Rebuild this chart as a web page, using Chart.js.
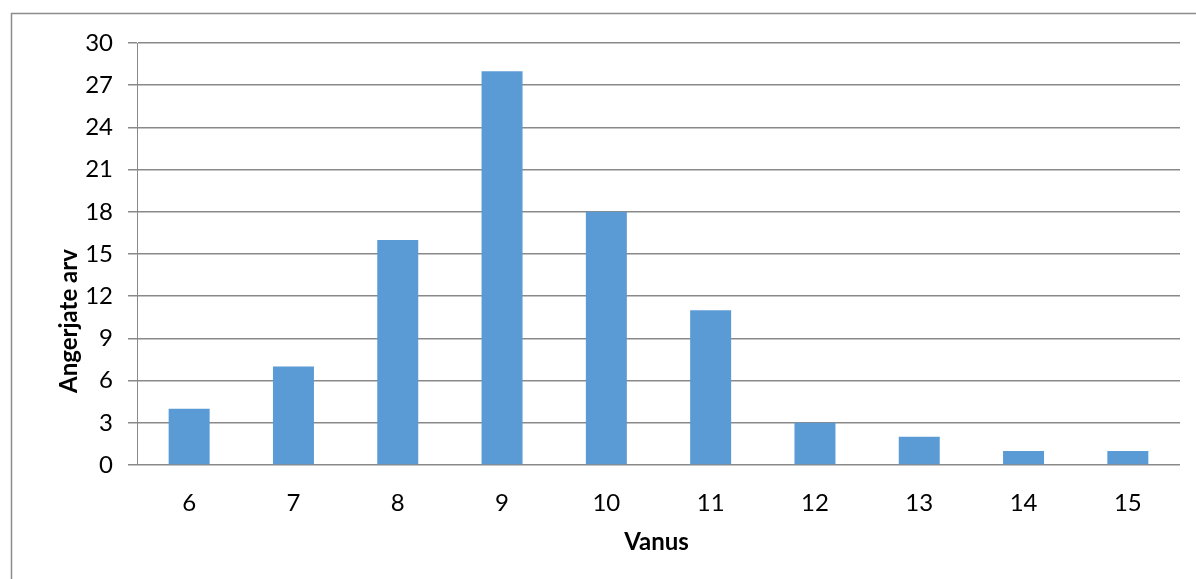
<!DOCTYPE html>
<html>
<head>
<meta charset="utf-8">
<script src="https://cdn.jsdelivr.net/npm/chart.js@4/dist/chart.umd.min.js"></script>
<style>
  html, body { margin: 0; padding: 0; background: #ffffff; }
  #wrap { width: 1196px; height: 579px; position: relative; }
</style>
</head>
<body>
<div id="wrap"><canvas id="c" width="1196" height="579"></canvas></div>
<script>
// Age groups and how many respondents fall into each
const ages = ['6', '7', '8', '9', '10', '11', '12', '13', '14', '15'];
const respondents = [4, 7, 16, 28, 18, 11, 3, 2, 1, 1];
const yTicks = [0, 3, 6, 9, 12, 15, 18, 21, 24, 27, 30];

const xTitle = 'Vanus';
const yTitle = 'Angerjate arv';

const FONT = 'Lato, "Liberation Sans", sans-serif';
const GRID = '#898989';

// Frame around the chart and the two axis titles
const decorations = {
  id: 'decorations',
  beforeDraw(chart) {
    const ctx = chart.ctx;
    ctx.save();
    ctx.strokeStyle = '#8c8c8c';
    ctx.lineWidth = 1.5;
    ctx.beginPath();
    ctx.moveTo(11.5, 579);
    ctx.lineTo(11.5, 13.5);
    ctx.lineTo(1196, 13.5);
    ctx.stroke();
    ctx.restore();
  },
  afterDraw(chart) {
    const ctx = chart.ctx;
    const area = chart.chartArea;
    ctx.save();
    ctx.fillStyle = '#000000';
    ctx.font = 'bold 24px ' + FONT;
    ctx.textAlign = 'center';
    ctx.textBaseline = 'middle';
    ctx.fillText(xTitle, (area.left + area.right) / 2 - 2, 542);
    ctx.translate(69, 321);
    ctx.rotate(-Math.PI / 2);
    ctx.fillText(yTitle, 0, 0);
    ctx.restore();
  }
};

new Chart(document.getElementById('c'), {
  type: 'bar',
  data: {
    labels: ages,
    datasets: [{
      data: respondents,
      backgroundColor: '#5b9bd5',
      borderWidth: 0,
      categoryPercentage: 1,
      barPercentage: 0.393
    }]
  },
  options: {
    responsive: false,
    animation: false,
    devicePixelRatio: 1,
    layout: { padding: { top: 43, right: 16, left: 0, bottom: 0 } },
    plugins: {
      legend: { display: false },
      tooltip: { enabled: false }
    },
    scales: {
      x: {
        afterFit(scale) { scale.height = 114; },
        grid: { display: false, drawTicks: false },
        border: { display: false },
        ticks: {
          color: '#000000',
          padding: 24,
          maxRotation: 0,
          font: { family: FONT, size: 24 }
        }
      },
      y: {
        min: 0,
        max: 30,
        afterFit(scale) { scale.width = 137; },
        afterBuildTicks(scale) { scale.ticks = yTicks.map(v => ({ value: v })); },
        grid: {
          color: GRID,
          lineWidth: 1.5,
          drawTicks: true,
          tickLength: 9
        },
        border: { display: true, color: GRID, width: 1 },
        ticks: {
          color: '#000000',
          padding: 15,
          font: { family: FONT, size: 24 }
        }
      }
    }
  },
  plugins: [decorations]
});
</script>
</body>
</html>
